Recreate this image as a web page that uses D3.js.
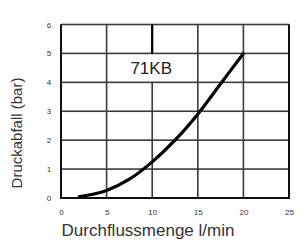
<!DOCTYPE html>
<html>
<head>
<meta charset="utf-8">
<script src="https://cdn.jsdelivr.net/npm/d3@7"></script>
<style>
  body { margin: 0; background: #fff; }
  text { font-family: "Liberation Sans", Arial, sans-serif; }
</style>
</head>
<body>
<svg width="302" height="248"></svg>
<script>
// values
let flow = [2, 3.5, 5, 7.5, 10, 12.5, 15, 17.5, 20];
let pressure = [0.05, 0.13, 0.26, 0.65, 1.25, 2.0, 2.9, 3.95, 5.0];
let x_ticks = [0, 5, 10, 15, 20, 25];
let y_ticks = [0, 1, 2, 3, 4, 5, 6];
let series_label = "71KB";
let x_title = "Durchflussmenge l/min";
let y_title = "Druckabfall (bar)";

var svg = d3.select("svg");
var margin = {top: 24.5, right: 13, bottom: 50, left: 61};
var plot_w = 302 - margin.left - margin.right;
var plot_h = 248 - margin.top - margin.bottom;

var xs = d3.scaleLinear().domain([0, 25]).range([0, plot_w]);
var ys = d3.scaleLinear().domain([0, 6]).range([plot_h, 0]);

var g = svg.append("g")
  .attr("transform", "translate(" + margin.left + "," + margin.top + ")");

// grid lines
g.selectAll("rect.vgrid")
  .data(x_ticks)
  .enter().append("rect")
    .attr("class", "vgrid")
    .attr("x", d => xs(d) - 0.8)
    .attr("y", 0)
    .attr("width", 1.6)
    .attr("height", plot_h)
    .attr("fill", "#3a3a3a");
g.selectAll("rect.hgrid")
  .data(y_ticks)
  .enter().append("rect")
    .attr("class", "hgrid")
    .attr("x", 0)
    .attr("y", d => ys(d) - 0.8)
    .attr("width", plot_w)
    .attr("height", 1.6)
    .attr("fill", "#3a3a3a");

// white gap behind the label
g.append("rect")
  .attr("x", xs(10) - 3).attr("y", ys(5) + 1)
  .attr("width", 6).attr("height", ys(4) - ys(5) - 2)
  .attr("fill", "#fff");

// thick marker line above the label
g.append("line")
  .attr("x1", xs(10)).attr("x2", xs(10))
  .attr("y1", ys(6)).attr("y2", ys(5))
  .attr("stroke", "#000")
  .attr("stroke-width", 2.2);

// frame: left, bottom, right in black
g.append("path")
  .attr("d", "M0,0V" + plot_h + "H" + plot_w + "V0")
  .attr("fill", "none")
  .attr("stroke", "#111")
  .attr("stroke-width", 2);

g.append("text")
  .attr("x", xs(10) - 1)
  .attr("y", ys(4.5) + 6)
  .attr("text-anchor", "middle")
  .attr("font-size", 17)
  .attr("fill", "#222")
  .text(series_label);

// curve
var line = d3.line()
  .x((d, i) => xs(flow[i]))
  .y(d => ys(d))
  .curve(d3.curveCatmullRom.alpha(0.5));

g.append("path")
  .datum(pressure)
  .attr("d", line)
  .attr("fill", "none")
  .attr("stroke", "#000")
  .attr("stroke-width", 3.2)
  .attr("stroke-linecap", "round");

// axes (labels only)
var x_axis = g.append("g")
  .attr("transform", "translate(0," + (plot_h + 11) + ")")
  .call(d3.axisBottom(xs).tickValues(x_ticks).tickSize(0).tickPadding(0).tickFormat(d3.format("d")));
var y_axis = g.append("g")
  .attr("transform", "translate(-12,0)")
  .call(d3.axisLeft(ys).tickValues(y_ticks).tickSize(0).tickPadding(0).tickFormat(d3.format("d")));

[x_axis, y_axis].forEach(function(a) {
  a.select(".domain").remove();
  a.selectAll("text")
    .attr("font-family", "'Liberation Sans', Arial, sans-serif")
    .attr("font-size", 8)
    .attr("fill", "#333");
});
y_axis.selectAll("text").attr("dy", "0.32em").attr("text-anchor", "middle");

svg.append("text")
  .attr("x", 148)
  .attr("y", 236)
  .attr("text-anchor", "middle")
  .attr("font-size", 17)
  .attr("fill", "#333")
  .text(x_title);

svg.append("text")
  .attr("transform", "translate(22,133) rotate(-90)")
  .attr("text-anchor", "middle")
  .attr("font-size", 15)
  .attr("fill", "#333")
  .text(y_title);
</script>
</body>
</html>
